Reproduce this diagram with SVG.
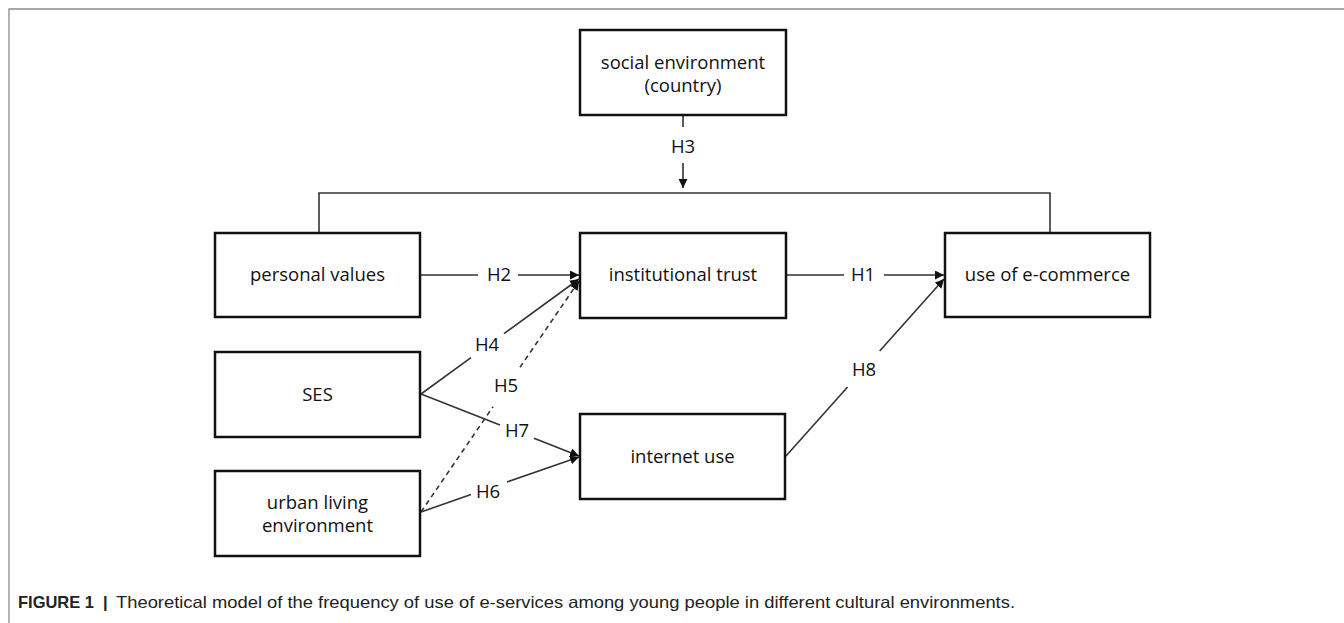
<svg xmlns="http://www.w3.org/2000/svg" width="1344" height="623" viewBox="0 0 1344 623">
<style>
.box{fill:#fff;stroke:#111;stroke-width:2.5}
.lbl{font-family:"Open Sans","Noto Sans",sans-serif;font-size:18.5px;fill:#111;text-anchor:middle}
.con{fill:none;stroke:#333;stroke-width:1.6}
.dash{stroke-dasharray:5 4}
.frame{fill:none;stroke:#8a8a8a;stroke-width:1.3}
.cap{font-family:"Liberation Sans",Arial,sans-serif;font-size:16.5px;fill:#222}
</style>
<defs>
<marker id="ah" viewBox="0 0 10 10" refX="10" refY="5" markerUnits="userSpaceOnUse" markerWidth="9" markerHeight="9" orient="auto">
<path d="M0,0 L10,5 L0,10 z" fill="#111"/>
</marker>
</defs>
<rect width="1344" height="623" fill="#fff"/>
<path class="frame" d="M9,623 L9,9 L1344,9"/>

<g id="connectors">
<path class="con" d="M319,233 L319,193 L1050,193 L1050,233" stroke-width="1.4"/>
<path class="con" d="M683,116 L683,127 M683,163 L683,188" marker-end="url(#ah)"/>
<path class="con" d="M421,275 L478,275 M518,275 L579,275" marker-end="url(#ah)"/>
<path class="con" d="M786,275 L844,275 M884,275 L944,275" marker-end="url(#ah)"/>
<path class="con" d="M421,394 L471,357.6 M504,333.6 L579,279" marker-end="url(#ah)"/>
<path class="con dash" d="M421,512 L493,406.7 M520,367.3 L579,281" marker-end="url(#ah)"/>
<path class="con" d="M421,394 L500,425 M534,438.3 L579,456" marker-end="url(#ah)"/>
<path class="con" d="M421,512 L471,494.6 M507,482 L579,457" marker-end="url(#ah)"/>
<path class="con" d="M786,456 L847.6,387 M879.7,351 L944,279" marker-end="url(#ah)"/>
<text class="lbl" x="683" y="153">H3</text>
<text class="lbl" x="499" y="281">H2</text>
<text class="lbl" x="863" y="281">H1</text>
<text class="lbl" x="487" y="351">H4</text>
<text class="lbl" x="506" y="392">H5</text>
<text class="lbl" x="517" y="437">H7</text>
<text class="lbl" x="488" y="498">H6</text>
<text class="lbl" x="864" y="376">H8</text>
</g>

<g id="social">
<rect class="box" x="580" y="30" width="206" height="85"/>
<text class="lbl" x="683" y="69">social environment</text>
<text class="lbl" x="683" y="92">(country)</text>
</g>
<g id="personal">
<rect class="box" x="215" y="233" width="205" height="84"/>
<text class="lbl" x="317.5" y="281">personal values</text>
</g>
<g id="trust">
<rect class="box" x="580" y="233" width="206" height="85"/>
<text class="lbl" x="683" y="281">institutional trust</text>
</g>
<g id="ecommerce">
<rect class="box" x="945" y="233" width="205" height="84"/>
<text class="lbl" x="1047.5" y="281">use of e-commerce</text>
</g>
<g id="ses">
<rect class="box" x="215" y="352" width="205" height="85"/>
<text class="lbl" x="317.5" y="401">SES</text>
</g>
<g id="urban">
<rect class="box" x="215" y="471" width="205" height="85"/>
<text class="lbl" x="317.5" y="509">urban living</text>
<text class="lbl" x="317.5" y="532">environment</text>
</g>
<g id="internet">
<rect class="box" x="580" y="414" width="205" height="85"/>
<text class="lbl" x="682.5" y="463">internet use</text>
</g>

<g id="caption">
<text class="cap" x="18" y="608" font-weight="bold" textLength="76" lengthAdjust="spacingAndGlyphs">FIGURE 1</text>
<text class="cap" x="103" y="608" font-weight="bold">|</text>
<text class="cap" x="116" y="608" textLength="899" lengthAdjust="spacingAndGlyphs">Theoretical model of the frequency of use of e-services among young people in different cultural environments.</text>
</g>
</svg>
